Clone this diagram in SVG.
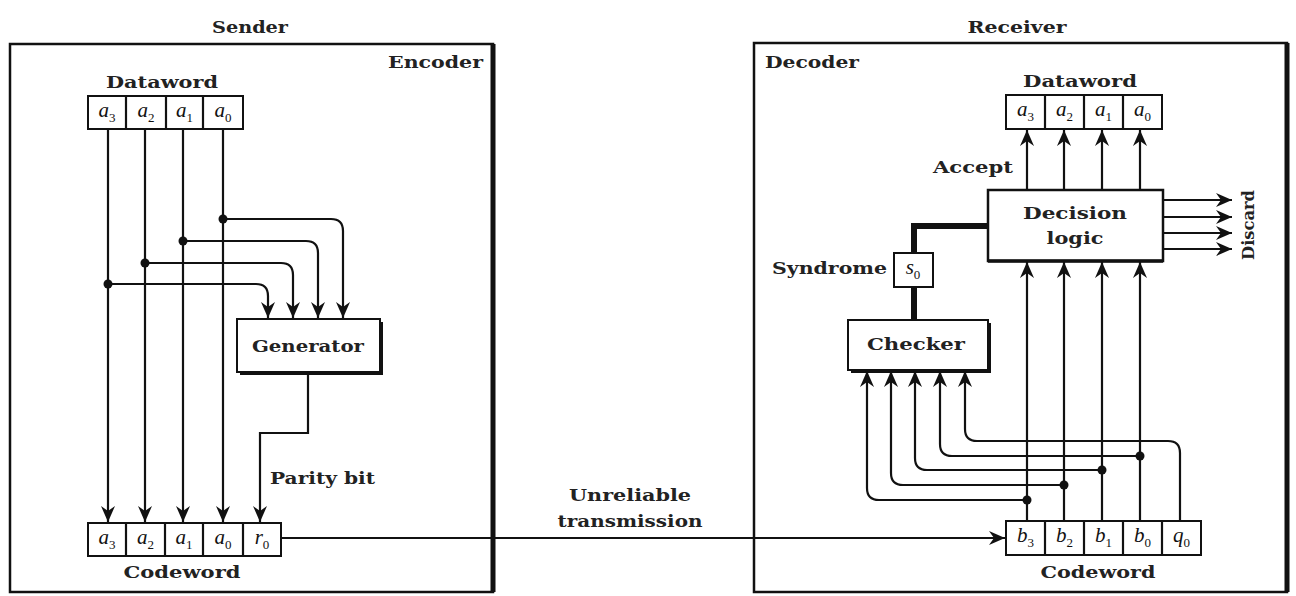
<svg xmlns="http://www.w3.org/2000/svg" width="1296" height="596" viewBox="0 0 1296 596">
<style>
.lbl{font-family:"DejaVu Serif","Liberation Serif",serif;font-weight:bold;font-size:17px;fill:#222}
.cell{font-family:"Liberation Serif","DejaVu Serif",serif;font-style:italic;font-size:21px;fill:#111;text-anchor:middle}
.sb{font-size:13px;font-style:normal}
.box{fill:#fff;stroke:#111;stroke-width:2}
.frame{fill:none;stroke:#111;stroke-width:2.5}
.ln{fill:none;stroke:#111;stroke-width:2.2}
.ar{fill:none;stroke:#111;stroke-width:2.2;marker-end:url(#ah)}
.thick{fill:none;stroke:#111;stroke-width:6}
.dot{fill:#111}
.mid{text-anchor:middle}
</style>
<defs>
<marker id="ah" markerUnits="userSpaceOnUse" markerWidth="17" markerHeight="14" refX="16" refY="7" orient="auto">
<path d="M0,0 L16,7 L0,14 L5,7 z" fill="#111"/>
</marker>
</defs>
<rect width="1296" height="596" fill="#fff"/>

<g id="sender">
<rect class="frame" x="10" y="44" width="483" height="548"/>
<line x1="493" y1="44" x2="493" y2="592" stroke="#111" stroke-width="5"/>
<text class="lbl mid" x="250" y="33" textLength="76" lengthAdjust="spacingAndGlyphs">Sender</text>
<text class="lbl" x="483" y="68" text-anchor="end" textLength="95" lengthAdjust="spacingAndGlyphs">Encoder</text>
</g>

<g id="receiver">
<rect class="frame" x="754" y="43" width="533" height="549"/>
<line x1="1287" y1="43" x2="1287" y2="592" stroke="#111" stroke-width="5"/>
<text class="lbl mid" x="1017" y="33" textLength="99" lengthAdjust="spacingAndGlyphs">Receiver</text>
<text class="lbl" x="765" y="68" textLength="94" lengthAdjust="spacingAndGlyphs">Decoder</text>
</g>

<g id="sender-dataword">
<text class="lbl mid" x="162" y="88" textLength="112" lengthAdjust="spacingAndGlyphs">Dataword</text>
<rect class="box" x="88" y="96" width="155" height="33"/>
<line class="ln" x1="126" y1="96" x2="126" y2="129"/>
<line class="ln" x1="166" y1="96" x2="166" y2="129"/>
<line class="ln" x1="203" y1="96" x2="203" y2="129"/>
<text class="cell" x="107" y="117">a<tspan class="sb" dy="5">3</tspan></text>
<text class="cell" x="146" y="117">a<tspan class="sb" dy="5">2</tspan></text>
<text class="cell" x="184.5" y="117">a<tspan class="sb" dy="5">1</tspan></text>
<text class="cell" x="223" y="117">a<tspan class="sb" dy="5">0</tspan></text>
</g>

<g id="generator">
<rect x="240" y="322" width="143" height="53" fill="#111"/>
<rect class="box" x="237" y="319" width="143" height="53"/>
<text class="lbl mid" x="308" y="352" textLength="112" lengthAdjust="spacingAndGlyphs">Generator</text>
</g>

<g id="sender-codeword">
<rect class="box" x="88" y="523" width="193" height="33"/>
<line class="ln" x1="126" y1="523" x2="126" y2="556"/>
<line class="ln" x1="165" y1="523" x2="165" y2="556"/>
<line class="ln" x1="203" y1="523" x2="203" y2="556"/>
<line class="ln" x1="243" y1="523" x2="243" y2="556"/>
<text class="cell" x="107" y="544">a<tspan class="sb" dy="5">3</tspan></text>
<text class="cell" x="145.5" y="544">a<tspan class="sb" dy="5">2</tspan></text>
<text class="cell" x="184" y="544">a<tspan class="sb" dy="5">1</tspan></text>
<text class="cell" x="223" y="544">a<tspan class="sb" dy="5">0</tspan></text>
<text class="cell" x="262" y="544">r<tspan class="sb" dy="5">0</tspan></text>
<text class="lbl mid" x="182" y="578" textLength="117" lengthAdjust="spacingAndGlyphs">Codeword</text>
</g>

<g id="receiver-dataword">
<text class="lbl mid" x="1080" y="87" textLength="114" lengthAdjust="spacingAndGlyphs">Dataword</text>
<rect class="box" x="1006" y="95" width="156" height="34"/>
<line class="ln" x1="1045" y1="95" x2="1045" y2="129"/>
<line class="ln" x1="1084" y1="95" x2="1084" y2="129"/>
<line class="ln" x1="1123" y1="95" x2="1123" y2="129"/>
<text class="cell" x="1025.5" y="116">a<tspan class="sb" dy="5">3</tspan></text>
<text class="cell" x="1064.5" y="116">a<tspan class="sb" dy="5">2</tspan></text>
<text class="cell" x="1103.5" y="116">a<tspan class="sb" dy="5">1</tspan></text>
<text class="cell" x="1142.5" y="116">a<tspan class="sb" dy="5">0</tspan></text>
</g>

<g id="decision-logic">
<rect class="box" x="988" y="190" width="175" height="71" style="stroke-width:2.5"/>
<line x1="988" y1="261" x2="1163" y2="261" stroke="#111" stroke-width="3.5"/>
<text class="lbl mid" x="1075" y="219" textLength="104" lengthAdjust="spacingAndGlyphs">Decision</text>
<text class="lbl mid" x="1075" y="244" textLength="57" lengthAdjust="spacingAndGlyphs">logic</text>
</g>

<g id="syndrome">
<rect class="box" x="894" y="253" width="39" height="34"/>
<text class="cell" x="913" y="274">s<tspan class="sb" dy="5">0</tspan></text>
<text class="lbl" x="887" y="274" text-anchor="end" textLength="115" lengthAdjust="spacingAndGlyphs">Syndrome</text>
</g>

<g id="checker">
<rect x="851" y="323" width="140" height="50" fill="#111"/>
<rect class="box" x="848" y="320" width="140" height="50"/>
<text class="lbl mid" x="916" y="350" textLength="98" lengthAdjust="spacingAndGlyphs">Checker</text>
</g>

<g id="receiver-codeword">
<rect class="box" x="1006" y="521" width="195" height="34"/>
<line class="ln" x1="1045" y1="521" x2="1045" y2="555"/>
<line class="ln" x1="1084" y1="521" x2="1084" y2="555"/>
<line class="ln" x1="1123" y1="521" x2="1123" y2="555"/>
<line class="ln" x1="1162" y1="521" x2="1162" y2="555"/>
<text class="cell" x="1025.5" y="542">b<tspan class="sb" dy="5">3</tspan></text>
<text class="cell" x="1064.5" y="542">b<tspan class="sb" dy="5">2</tspan></text>
<text class="cell" x="1103.5" y="542">b<tspan class="sb" dy="5">1</tspan></text>
<text class="cell" x="1142.5" y="542">b<tspan class="sb" dy="5">0</tspan></text>
<text class="cell" x="1181.5" y="542">q<tspan class="sb" dy="5">0</tspan></text>
<text class="lbl mid" x="1098" y="578" textLength="115" lengthAdjust="spacingAndGlyphs">Codeword</text>
</g>

<g id="connectors">
<path class="ar" d="M108,129 V522"/>
<path class="ar" d="M145,129 V522"/>
<path class="ar" d="M183,129 V522"/>
<path class="ar" d="M223,129 V522"/>
<path class="ar" d="M223,219 H331 Q343,219 343,231 V318"/>
<path class="ar" d="M183,241 H306 Q318,241 318,253 V318"/>
<path class="ar" d="M145,263 H281 Q293,263 293,275 V318"/>
<path class="ar" d="M108,284 H256 Q268,284 268,296 V318"/>
<circle class="dot" cx="223" cy="219" r="4.5"/>
<circle class="dot" cx="183" cy="241" r="4.5"/>
<circle class="dot" cx="145" cy="263" r="4.5"/>
<circle class="dot" cx="108" cy="284" r="4.5"/>
<path class="ar" d="M308,372 V433 H260 V522"/>
<text class="lbl" x="270" y="484" textLength="105" lengthAdjust="spacingAndGlyphs">Parity bit</text>
<path class="ar" d="M281,538 H1005"/>
<text class="lbl mid" x="630" y="501" textLength="122" lengthAdjust="spacingAndGlyphs">Unreliable</text>
<text class="lbl mid" x="630" y="527" textLength="145" lengthAdjust="spacingAndGlyphs">transmission</text>
<path class="ar" d="M1027,521 V262"/>
<path class="ar" d="M1064,521 V262"/>
<path class="ar" d="M1102,521 V262"/>
<path class="ar" d="M1140,521 V262"/>
<path class="ar" d="M1027,190 V130"/>
<path class="ar" d="M1064,190 V130"/>
<path class="ar" d="M1102,190 V130"/>
<path class="ar" d="M1140,190 V130"/>
<text class="lbl mid" x="973" y="173" textLength="80" lengthAdjust="spacingAndGlyphs">Accept</text>
<path class="ar" d="M1163,200 H1232"/>
<path class="ar" d="M1163,217 H1232"/>
<path class="ar" d="M1163,233 H1232"/>
<path class="ar" d="M1163,249 H1232"/>
<text class="lbl mid" transform="translate(1248,225) rotate(-90)" x="0" y="6" textLength="70" lengthAdjust="spacingAndGlyphs">Discard</text>
<path class="thick" d="M988,226 H914 V253"/>
<path class="thick" d="M914,287 V320"/>
<path class="ar" d="M1027,500 H879 Q867,500 867,488 V371"/>
<path class="ar" d="M1064,485 H903 Q891,485 891,473 V371"/>
<path class="ar" d="M1102,470 H927 Q915,470 915,458 V371"/>
<path class="ar" d="M1140,456 H952 Q940,456 940,444 V371"/>
<path class="ar" d="M1180,521 V453 Q1180,441 1168,441 H977 Q965,441 965,429 V371"/>
<circle class="dot" cx="1027" cy="500" r="4.5"/>
<circle class="dot" cx="1064" cy="485" r="4.5"/>
<circle class="dot" cx="1102" cy="470" r="4.5"/>
<circle class="dot" cx="1140" cy="456" r="4.5"/>
</g>
</svg>
